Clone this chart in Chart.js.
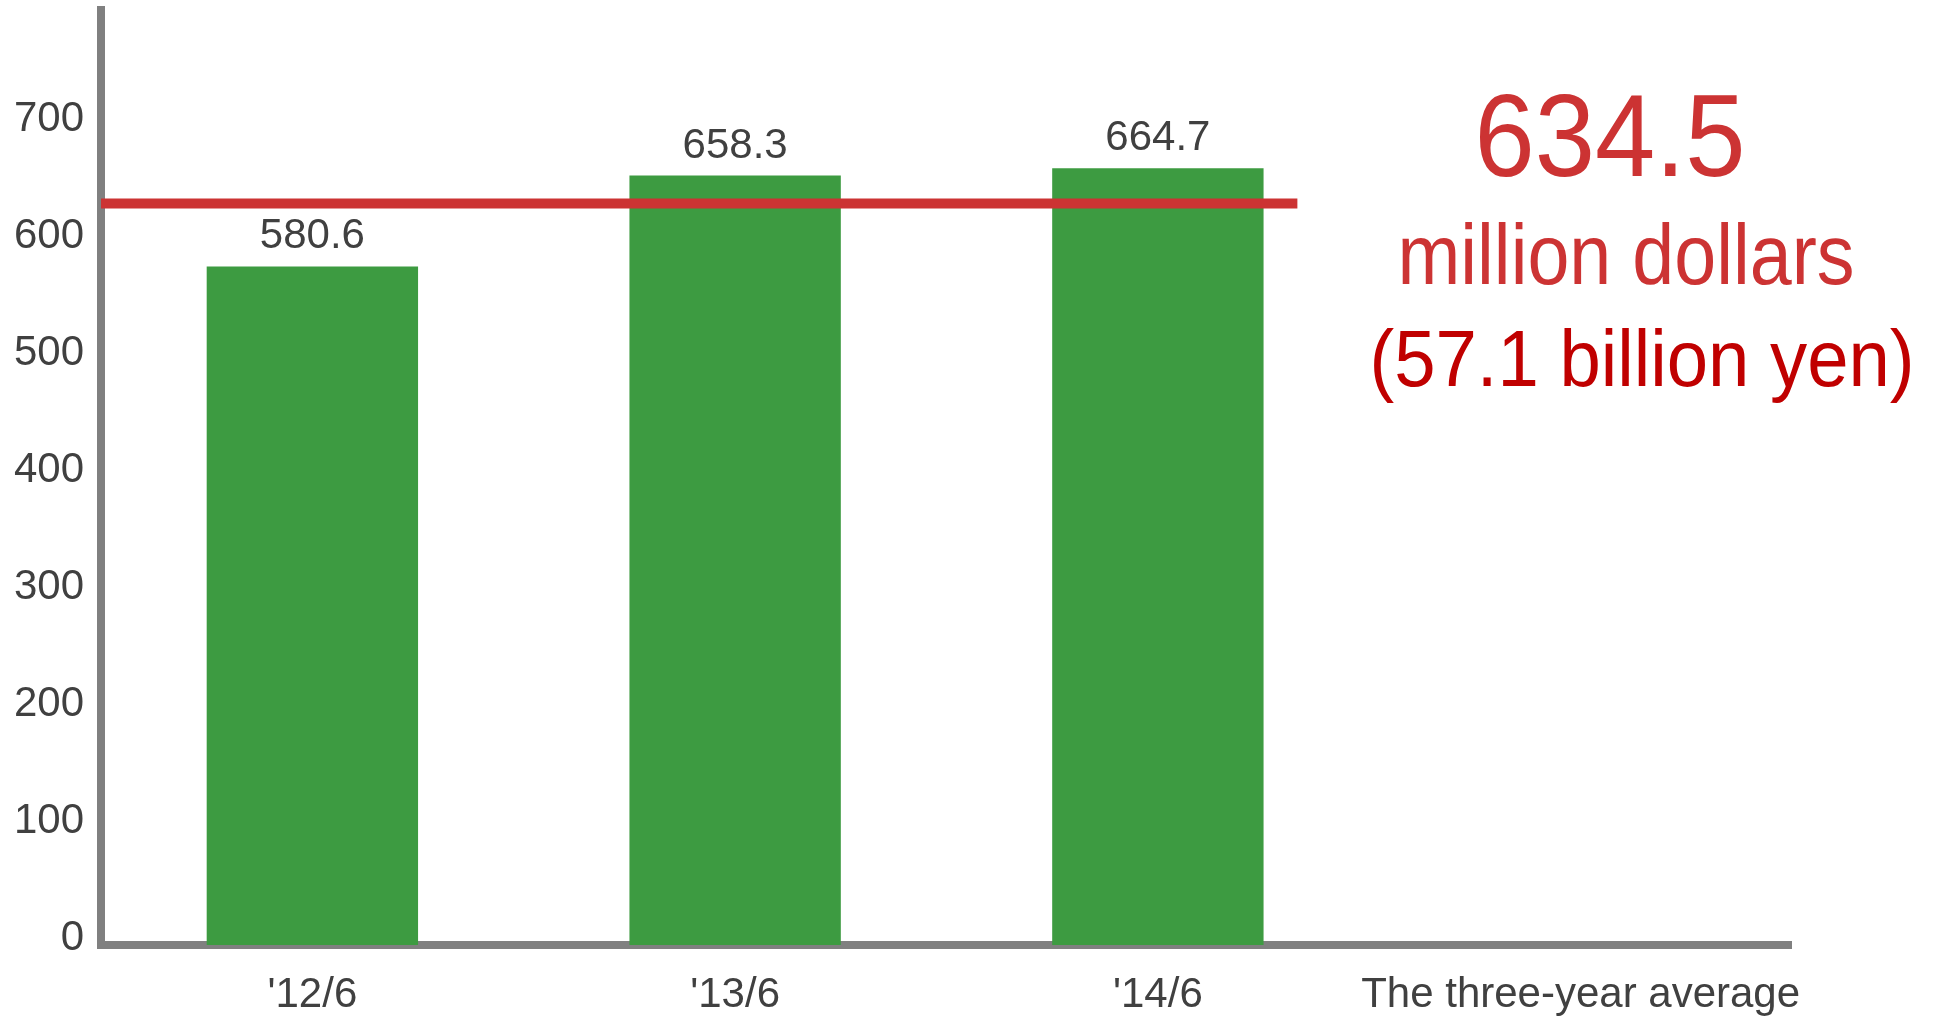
<!DOCTYPE html>
<html><head><meta charset="utf-8">
<script src="https://cdn.jsdelivr.net/npm/chart.js@4/dist/chart.umd.min.js"></script>
<style>html,body{margin:0;padding:0;background:#fff;overflow:hidden}</style>
</head><body>
<canvas id="c" width="1935" height="1018" style="display:block;width:1935px;height:1018px"></canvas>
<script>
// ---- data ----
const categories = ["'12/6", "'13/6", "'14/6", "The three-year average"];
const salesValues = [580.6, 658.3, 664.7, null];
const averageValue = 634.5;
const averageLineSpan = [0, 2.83];          // extent of the average line, in category widths
const yTickValues = [0, 100, 200, 300, 400, 500, 600, 700];
const yAxisMax = 800;
const calloutTexts = ["634.5", "million dollars", "(57.1 billion yen)"];

const FONT = "'Liberation Sans', Arial, sans-serif";
const TEXT = '#404040';
const AXIS = '#808080';

const valueLabels = {
  id: 'valueLabels',
  afterDatasetsDraw(chart) {
    const ctx = chart.ctx;
    const meta = chart.getDatasetMeta(0);
    ctx.save();
    ctx.font = '42px ' + FONT;
    ctx.fillStyle = TEXT;
    ctx.textAlign = 'center';
    ctx.textBaseline = 'alphabetic';
    meta.data.forEach((bar, i) => {
      const v = salesValues[i];
      if (v == null) return;
      ctx.fillText(v.toFixed(1), bar.x, bar.y - 18);
    });
    ctx.restore();
  }
};

const callout = {
  id: 'callout',
  afterDraw(chart) {
    const ctx = chart.ctx;
    const specs = [
      {size: 117, w: 271, cx: 1610, by: 176, color: '#cc3333'},
      {size: 86,  w: 457, cx: 1626, by: 284, color: '#cc3333'},
      {size: 80,  w: 545, cx: 1642, by: 386, color: '#c00000'}
    ];
    calloutTexts.forEach((t, i) => {
      const s = specs[i];
      ctx.save();
      ctx.font = s.size + 'px ' + FONT;
      const mw = ctx.measureText(t).width;
      const k = s.w / mw;
      ctx.translate(s.cx, s.by);
      ctx.scale(k, 1);
      ctx.fillStyle = s.color;
      ctx.textAlign = 'center';
      ctx.textBaseline = 'alphabetic';
      ctx.fillText(t, 0, 0);
      ctx.restore();
    });
  }
};

new Chart(document.getElementById('c'), {
  type: 'bar',
  data: {
    labels: categories,
    datasets: [
      {
        type: 'bar',
        data: salesValues,
        backgroundColor: '#3d9b41',
        barPercentage: 0.5,
        categoryPercentage: 1.0,
        grouped: false,
        xAxisID: 'x',
        yAxisID: 'y',
        order: 1
      },
      {
        type: 'line',
        data: [{x: averageLineSpan[0], y: averageValue}, {x: averageLineSpan[1], y: averageValue}],
        borderColor: '#cc3333',
        borderWidth: 10,
        borderCapStyle: 'butt',
        pointRadius: 0,
        fill: false,
        xAxisID: 'x2',
        yAxisID: 'y',
        order: 0
      }
    ]
  },
  options: {
    responsive: false,
    animation: false,
    devicePixelRatio: 1,
    layout: {padding: {left: 0, top: 10, right: 143, bottom: 0}},
    plugins: {legend: {display: false}, tooltip: {enabled: false}},
    scales: {
      x: {
        type: 'category',
        offset: true,
        z: 1,
        grid: {drawOnChartArea: false, drawTicks: false, color: 'rgba(0,0,0,0)', lineWidth: 0},
        border: {display: true, color: AXIS, width: 8},
        ticks: {color: TEXT, font: {size: 42, family: FONT}, padding: 25, maxRotation: 0, autoSkip: false},
        afterFit(s) { s.height = 73; s.paddingLeft = 0; s.paddingRight = 0; }
      },
      x2: {
        type: 'linear',
        display: false,
        offset: false,
        grid: {offset: false},
        min: 0,
        max: categories.length
      },
      y: {
        min: 0,
        max: yAxisMax,
        afterBuildTicks(s) { s.ticks = yTickValues.concat([yAxisMax]).map(v => ({value: v})); },
        grid: {drawOnChartArea: false, drawTicks: false, color: 'rgba(0,0,0,0)', lineWidth: 0},
        border: {display: true, color: AXIS, width: 8},
        ticks: {
          color: TEXT, font: {size: 42, family: FONT}, padding: 17, labelOffset: -7,
          callback: v => (yTickValues.includes(v) ? String(v) : '')
        },
        afterFit(s) { s.width = 101; s.paddingTop = 0; s.paddingBottom = 0; }
      }
    }
  },
  plugins: [valueLabels, callout]
});
</script>
</body></html>
